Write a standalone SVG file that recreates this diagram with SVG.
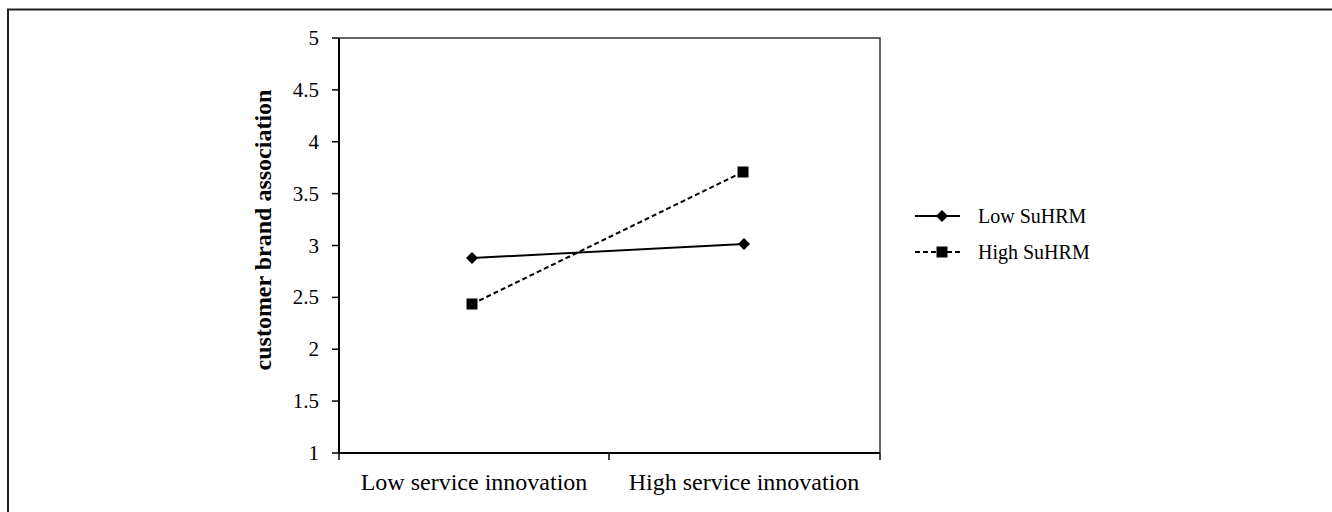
<svg xmlns="http://www.w3.org/2000/svg" width="1332" height="512" viewBox="0 0 1332 512">
<style>
.frame{fill:none;stroke:#222;stroke-width:2}
.axis{fill:none;stroke:#000;stroke-width:2}
.plotb{fill:none;stroke:#333;stroke-width:1.5}
.tick{stroke:#000;stroke-width:1.5}
.t{font-family:"Liberation Serif","Times New Roman",serif;fill:#000}
.ylab{font-size:21px;text-anchor:end}
.xlab{font-size:24px;text-anchor:middle}
.leg{font-size:20px}
.title{font-size:24px;font-weight:bold;text-anchor:middle}
.solid{fill:none;stroke:#000;stroke-width:2}
.dash{fill:none;stroke:#000;stroke-width:2;stroke-dasharray:5,3}
</style>
<defs>
<path id="dia" d="M0,-6 L6,0 L0,6 L-6,0 Z" fill="#000"/>
<rect id="sq" x="-5.5" y="-5.5" width="11" height="11" fill="#000"/>
</defs>
<rect width="1332" height="512" fill="#fff"/>
<path class="frame" d="M8,512 V9.5 H1332"/>
<g id="axes">
<path class="plotb" d="M339,38 H880 V453"/>
<path class="axis" d="M339,38 V453 H880"/>
<g class="tick">
<line x1="332" y1="38" x2="339" y2="38"/>
<line x1="332" y1="89.9" x2="339" y2="89.9"/>
<line x1="332" y1="141.75" x2="339" y2="141.75"/>
<line x1="332" y1="193.6" x2="339" y2="193.6"/>
<line x1="332" y1="245.5" x2="339" y2="245.5"/>
<line x1="332" y1="297.4" x2="339" y2="297.4"/>
<line x1="332" y1="349.25" x2="339" y2="349.25"/>
<line x1="332" y1="401.1" x2="339" y2="401.1"/>
<line x1="332" y1="453" x2="339" y2="453"/>
<line x1="339" y1="453" x2="339" y2="460"/>
<line x1="609" y1="453" x2="609" y2="460"/>
<line x1="880" y1="453" x2="880" y2="460"/>
</g>
<g class="t ylab">
<text x="319" y="45">5</text>
<text x="319" y="96.9">4.5</text>
<text x="319" y="148.7">4</text>
<text x="319" y="200.6">3.5</text>
<text x="319" y="252.5">3</text>
<text x="319" y="304.4">2.5</text>
<text x="319" y="356.2">2</text>
<text x="319" y="408.1">1.5</text>
<text x="319" y="460">1</text>
</g>
<g class="t xlab">
<text x="474" y="490">Low service innovation</text>
<text x="744" y="490">High service innovation</text>
</g>
<text class="t title" transform="translate(271,230) rotate(-90)">customer brand association</text>
</g>
<g id="connectors">
<line class="solid" x1="472" y1="258" x2="744" y2="244"/>
<line class="dash" x1="472" y1="304" x2="743" y2="172"/>
</g>
<g id="low-suhrm">
<use href="#dia" x="472" y="258"/>
<use href="#dia" x="744" y="244"/>
</g>
<g id="high-suhrm">
<use href="#sq" x="472" y="304"/>
<use href="#sq" x="743" y="172"/>
</g>
<g id="legend">
<line class="solid" x1="915" y1="216" x2="960" y2="216"/>
<use href="#dia" x="942" y="216"/>
<text class="t leg" x="978" y="223">Low SuHRM</text>
<line class="dash" x1="915" y1="252" x2="960" y2="252"/>
<use href="#sq" x="942" y="252"/>
<text class="t leg" x="978" y="259">High SuHRM</text>
</g>
</svg>
